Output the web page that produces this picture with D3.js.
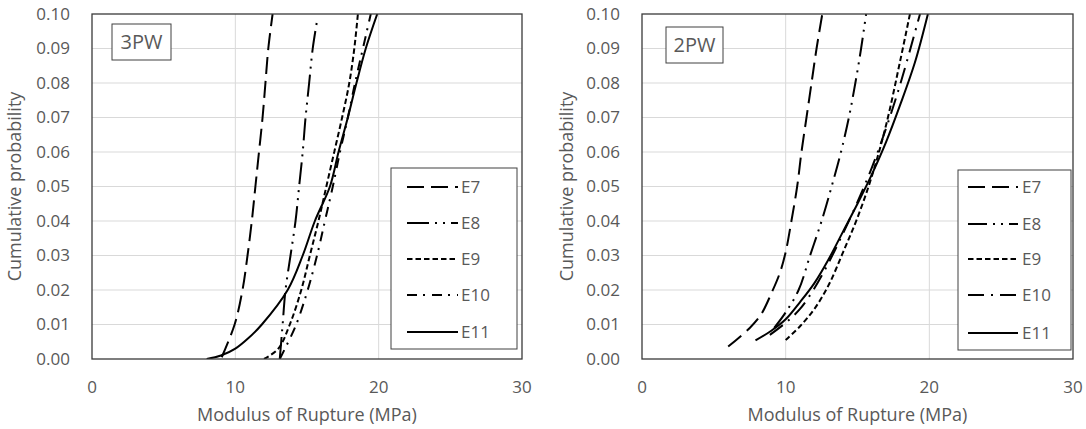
<!DOCTYPE html>
<html>
<head>
<meta charset="utf-8">
<script src="https://cdn.jsdelivr.net/npm/d3@7"></script>
<style>
  body { margin: 0; background: #fff; }
  svg { display: block; font-family: "Open Sans", "Noto Sans", sans-serif; }
</style>
</head>
<body>
<svg id="chart" width="1086" height="429"></svg>
<script>
// series names and axis ticks
const seriesNames = ["E7", "E8", "E9", "E10", "E11"];
const xTicks = [0, 10, 20, 30];
const yTicks = [0, 0.01, 0.02, 0.03, 0.04, 0.05, 0.06, 0.07, 0.08, 0.09, 0.10];

// 3PW curves: [MOR (MPa), cumulative probability]
const pw3E7 = [[9.05, 0.0005], [9.95, 0.01], [10.5, 0.02], [10.85, 0.03], [11.15, 0.04], [11.4, 0.05], [11.65, 0.06], [11.9, 0.07], [12.1, 0.08], [12.3, 0.09], [12.6, 0.10]];
const pw3E8 = [[13.1, 0.0], [13.2, 0.005], [13.3, 0.01], [13.5, 0.02], [13.85, 0.03], [14.2, 0.04], [14.45, 0.05], [14.7, 0.06], [14.9, 0.07], [15.15, 0.08], [15.4, 0.09], [15.7, 0.098]];
const pw3E9 = [[12.0, 0.0], [13.0, 0.003], [13.8, 0.01], [14.6, 0.02], [15.2, 0.03], [15.8, 0.04], [16.35, 0.05], [16.9, 0.06], [17.45, 0.07], [17.95, 0.08], [18.3, 0.09], [18.55, 0.10]];
const pw3E10 = [[13.1, 0.0], [13.7, 0.005], [14.25, 0.01], [15.05, 0.02], [15.7, 0.03], [16.25, 0.04], [16.8, 0.05], [17.3, 0.06], [17.85, 0.07], [18.35, 0.08], [18.9, 0.09], [19.45, 0.10]];
const pw3E11 = [[8.0, 0.0], [9.0, 0.001], [10.0, 0.003], [10.9, 0.006], [11.85, 0.01], [13.65, 0.02], [14.7, 0.03], [15.55, 0.04], [16.6, 0.05], [17.2, 0.06], [17.85, 0.07], [18.45, 0.08], [19.1, 0.09], [19.9, 0.10]];

// 2PW curves
const pw2E7 = [[6.0, 0.0036], [7.5, 0.009], [8.3, 0.013], [9.0, 0.019], [9.6, 0.025], [10.0, 0.031], [10.4, 0.04], [10.8, 0.05], [11.1, 0.06], [11.45, 0.07], [11.8, 0.08], [12.15, 0.09], [12.55, 0.10]];
const pw2E8 = [[9.2, 0.009], [10.0, 0.0135], [10.9, 0.02], [11.7, 0.03], [12.5, 0.04], [13.2, 0.05], [13.85, 0.06], [14.4, 0.07], [14.85, 0.08], [15.25, 0.09], [15.6, 0.10]];
const pw2E9 = [[10.0, 0.0055], [11.0, 0.0095], [12.0, 0.0145], [13.0, 0.0215], [14.0, 0.031], [15.0, 0.041], [16.0, 0.053], [17.0, 0.068], [18.0, 0.087], [18.65, 0.10]];
const pw2E10 = [[8.9, 0.007], [10.0, 0.0105], [11.0, 0.0145], [12.0, 0.0205], [13.0, 0.028], [14.0, 0.0365], [15.0, 0.0455], [16.0, 0.0555], [17.0, 0.067], [18.0, 0.080], [19.35, 0.10]];
const pw2E11 = [[7.9, 0.0054], [9.0, 0.0082], [10.0, 0.0115], [11.0, 0.0165], [12.0, 0.022], [13.0, 0.029], [14.0, 0.037], [15.0, 0.045], [16.0, 0.0535], [17.0, 0.063], [18.0, 0.074], [19.0, 0.086], [19.9, 0.10]];

const textColor = "#595959";

const panels = [
  {
    label: "3PW", series: [pw3E7, pw3E8, pw3E9, pw3E10, pw3E11],
    left: 92, right: 522, titleX: 15,
    labelBox: { x: 112, y: 24, w: 59, h: 36 },
    legend: { x: 391, y: 168, w: 126, h: 181, lineX: 407, lineW: 51, textX: 461, rows: [187, 223, 259, 295, 332] },
    dashes: ["17,7", "22,6,2,6,2,6", "5.5,3", "10,6,2,7", null]
  },
  {
    label: "2PW", series: [pw2E7, pw2E8, pw2E9, pw2E10, pw2E11],
    left: 642, right: 1073, titleX: 567,
    labelBox: { x: 666, y: 27, w: 57, h: 36 },
    legend: { x: 958, y: 170, w: 113, h: 180, lineX: 968, lineW: 50, textX: 1022, rows: [187, 224, 259, 295, 333] },
    dashes: ["17,7", "19,6,2,6,2,6", "5.5,3", "16,7,2,7", null]
  }
];

const plotTop = 14, plotBottom = 359;
const svg = d3.select("#chart");

panels.forEach(function(p, pi) {
  const x = d3.scaleLinear().domain([0, 30]).range([p.left, p.right]);
  const y = d3.scaleLinear().domain([0, 0.10]).range([plotBottom, plotTop]);
  const g = svg.append("g");

  // grid lines
  g.selectAll(".vgrid").data(xTicks.slice(1, -1)).enter().append("line")
    .attr("x1", d => x(d)).attr("x2", d => x(d))
    .attr("y1", plotTop).attr("y2", plotBottom)
    .attr("stroke", "#d9d9d9").attr("stroke-width", 1);
  g.selectAll(".hgrid").data(yTicks.slice(1, -1)).enter().append("line")
    .attr("x1", p.left).attr("x2", p.right)
    .attr("y1", d => y(d)).attr("y2", d => y(d))
    .attr("stroke", "#d9d9d9").attr("stroke-width", 1);

  // tick labels
  g.selectAll(".xt").data(xTicks).enter().append("text")
    .attr("x", d => x(d)).attr("y", 393)
    .attr("text-anchor", "middle").attr("font-size", 17).attr("fill", textColor)
    .text(d => d);
  g.selectAll(".yt").data(yTicks).enter().append("text")
    .attr("x", p.left - 22).attr("y", d => y(d)).attr("dy", "0.35em")
    .attr("text-anchor", "end").attr("font-size", 17).attr("fill", textColor)
    .text(d => d3.format(".2f")(d));

  // axis titles
  g.append("text")
    .attr("x", (p.left + p.right) / 2).attr("y", 415).attr("dy", "0.35em")
    .attr("text-anchor", "middle").attr("font-size", 18).attr("fill", textColor)
    .text("Modulus of Rupture (MPa)");
  g.append("text")
    .attr("transform", `translate(${p.titleX},${(plotTop + plotBottom) / 2}) rotate(-90)`)
    .attr("dy", "0.35em")
    .attr("text-anchor", "middle").attr("font-size", 18).attr("fill", textColor)
    .text("Cumulative probability");

  // curves, clipped to the plot area
  const clipId = "clip" + pi;
  svg.append("clipPath").attr("id", clipId).append("rect")
    .attr("x", p.left).attr("y", plotTop).attr("width", p.right - p.left).attr("height", plotBottom - plotTop);

  const line = d3.line()
    .x(d => x(d[0]))
    .y(d => y(d[1]))
    .curve(d3.curveCatmullRom);

  g.append("g").attr("clip-path", `url(#${clipId})`)
    .selectAll("path").data(p.series).enter().append("path")
    .attr("d", line)
    .attr("fill", "none")
    .attr("stroke", "#000")
    .attr("stroke-width", 2)
    .attr("stroke-dasharray", (d, i) => p.dashes[i]);

  // plot border
  g.append("rect")
    .attr("x", p.left).attr("y", plotTop)
    .attr("width", p.right - p.left).attr("height", plotBottom - plotTop)
    .attr("fill", "none").attr("stroke", "#3a3a3a").attr("stroke-width", 1.3);

  // panel label box
  const b = p.labelBox;
  g.append("rect")
    .attr("x", b.x).attr("y", b.y).attr("width", b.w).attr("height", b.h)
    .attr("fill", "#fff").attr("stroke", "#404040").attr("stroke-width", 1);
  g.append("text")
    .attr("x", b.x + b.w / 2).attr("y", b.y + b.h / 2).attr("dy", "0.36em")
    .attr("text-anchor", "middle").attr("font-size", 20).attr("fill", textColor)
    .text(p.label);

  // legend
  const L = p.legend;
  g.append("rect")
    .attr("x", L.x).attr("y", L.y).attr("width", L.w).attr("height", L.h)
    .attr("fill", "#fff").attr("stroke", "#404040").attr("stroke-width", 1);
  seriesNames.forEach(function(name, i) {
    g.append("line")
      .attr("x1", L.lineX).attr("x2", L.lineX + L.lineW)
      .attr("y1", L.rows[i]).attr("y2", L.rows[i])
      .attr("stroke", "#000").attr("stroke-width", 2)
      .attr("stroke-dasharray", p.dashes[i]);
    g.append("text")
      .attr("x", L.textX).attr("y", L.rows[i]).attr("dy", "0.35em")
      .attr("font-size", 17).attr("fill", textColor)
      .text(name);
  });
});
</script>
</body>
</html>
